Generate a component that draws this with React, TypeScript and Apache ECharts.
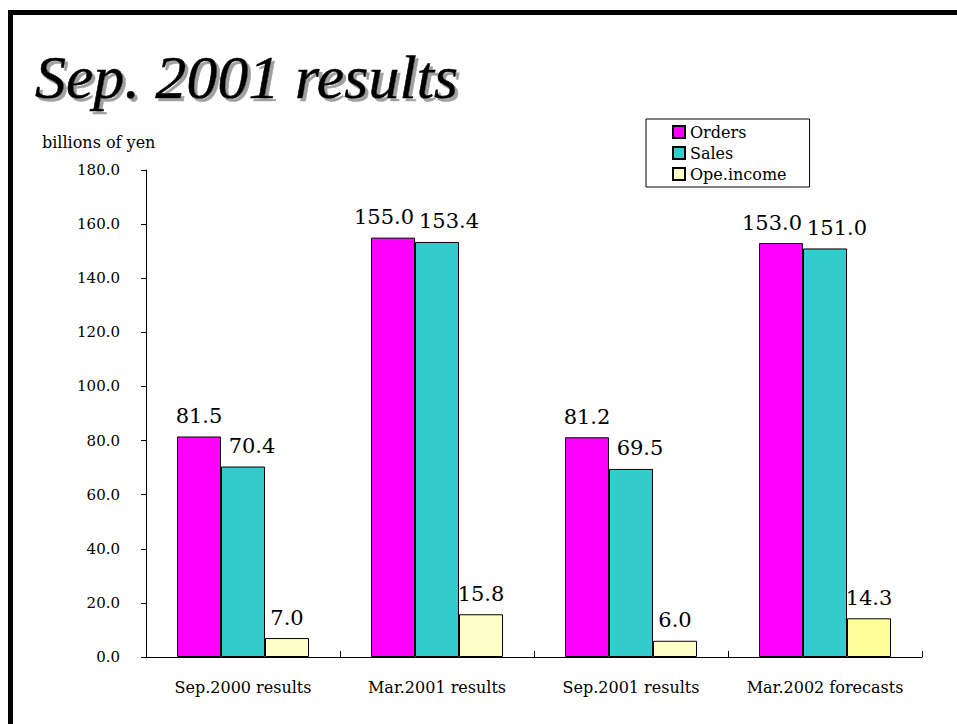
import React, { useEffect, useRef } from "react";
import * as echarts from "echarts";

const categories = ["Sep.2000 results", "Mar.2001 results", "Sep.2001 results", "Mar.2002 forecasts"];
const orders = [81.5, 155.0, 81.2, 153.0];
const sales = [70.4, 153.4, 69.5, 151.0];
const opeIncome = [7.0, 15.8, 6.0, 14.3];
const seriesNames = ["Orders", "Sales", "Ope.income"];
const yTicks = { min: 0, max: 180, interval: 20 };
const titleText = "Sep. 2001 results";
const unitText = "billions of yen";

const SERIF = "'DejaVu Serif', serif";

export default function App() {
  const ref = useRef<HTMLDivElement>(null);
  useEffect(() => {
    if (!ref.current) return;
    const chart = echarts.init(ref.current, null, { renderer: "svg" });
    const labelBase = {
      show: true,
      position: "top" as const,
      distance: 10,
      color: "#000",
      fontFamily: SERIF,
      fontSize: 21,
      formatter: (p: any) => Number(p.value).toFixed(1),
    };
    const barBase = {
      type: "bar" as const,
      barWidth: 44,
      barGap: "0%",
    };
    // wide (3-digit) labels of neighbouring bars are pushed apart, as in the original
    const ordersData = orders.map((v) => ({ value: v, label: { offset: [v >= 100 ? -9 : 0, 0] } }));
    const salesData = sales.map((v) => ({ value: v, label: { offset: [v >= 100 ? 12 : 9, 0] } }));
    chart.setOption({
      animation: false,
      backgroundColor: "#fff",
      grid: { left: 146, right: 35, top: 170, bottom: 67, containLabel: false },
      legend: {
        orient: "vertical",
        left: 646,
        top: 119,
        data: seriesNames,
        icon: "rect",
        itemWidth: 12,
        itemHeight: 12,
        itemGap: 5,
        padding: [5, 23, 5, 26],
        borderColor: "#000",
        borderWidth: 1,
        borderRadius: 0,
        textStyle: { fontFamily: SERIF, fontSize: 16, lineHeight: 16, color: "#000" },
      },
      xAxis: {
        type: "category",
        data: categories,
        axisLine: { show: true, lineStyle: { color: "#000", width: 1 } },
        axisTick: { show: true, inside: true, length: 6, lineStyle: { color: "#000" } },
        axisLabel: { color: "#000", fontFamily: SERIF, fontSize: 16, margin: 22, interval: 0 },
        splitLine: { show: false },
      },
      yAxis: {
        type: "value",
        min: yTicks.min,
        max: yTicks.max,
        interval: yTicks.interval,
        axisLine: { show: true, lineStyle: { color: "#000", width: 1 } },
        axisTick: { show: true, inside: false, length: 5, lineStyle: { color: "#000" } },
        axisLabel: {
          color: "#000",
          fontFamily: SERIF,
          fontSize: 15,
          margin: 26,
          formatter: (v: number) => v.toFixed(1),
        },
        splitLine: { show: false },
      },
      series: [
        {
          ...barBase,
          name: seriesNames[0],
          data: ordersData,
          itemStyle: { color: "#FF00FF", borderColor: "#000", borderWidth: 1 },
          label: { ...labelBase },
        },
        {
          ...barBase,
          name: seriesNames[1],
          data: salesData,
          itemStyle: { color: "#33CCCC", borderColor: "#000", borderWidth: 1 },
          label: { ...labelBase },
        },
        {
          ...barBase,
          name: seriesNames[2],
          data: opeIncome.map((v, i) =>
            i === opeIncome.length - 1 ? { value: v, itemStyle: { color: "#FFFF99" } } : v
          ),
          itemStyle: { color: "#FFFFC8", borderColor: "#000", borderWidth: 1 },
          label: { ...labelBase },
        },
      ],
      graphic: [
        { type: "rect", shape: { x: 8, y: 10, width: 949, height: 5 }, style: { fill: "#000" } },
        { type: "rect", shape: { x: 8, y: 10, width: 5, height: 714 }, style: { fill: "#000" } },
        {
          type: "text",
          x: 35,
          y: 108,
          style: {
            text: titleText,
            fill: "#000",
            font: "italic normal 62px 'Liberation Serif', serif",
            verticalAlign: "bottom",
            stroke: "#000",
            lineWidth: 0.6,
            textShadowColor: "#a0a0a0",
            textShadowOffsetX: 3,
            textShadowOffsetY: 3,
            textShadowBlur: 1,
          },
        },
        {
          type: "text",
          x: 42,
          y: 134,
          style: {
            text: unitText,
            fill: "#000",
            font: "16px 'DejaVu Serif', serif",
            verticalAlign: "top",
          },
        },
      ],
    });
    return () => chart.dispose();
  }, []);
  return (
    <div
      ref={ref}
      style={{ position: "fixed", left: 0, top: 0, width: 957, height: 724, background: "#fff" }}
    />
  );
}
